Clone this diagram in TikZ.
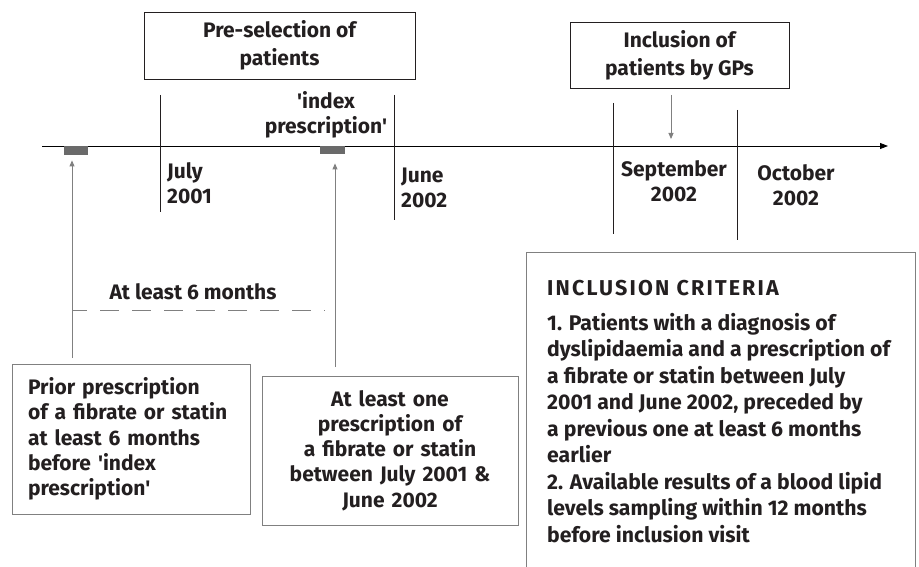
\documentclass[tikz,border=0pt]{standalone}
\usepackage{fontspec}
\setmainfont{Fira Sans}
\usetikzlibrary{arrows.meta}
\definecolor{txt}{HTML}{231F20}
\definecolor{grayline}{HTML}{808080}
\definecolor{barcol}{HTML}{6A6A6A}
\newcommand{\q}{\textquotesingle}
\tikzset{
  lbl/.style={inner sep=0pt, text=txt, font=\bfseries\fontsize{21}{25}\selectfont},
  topbox/.style={draw=txt, line width=0.9pt, inner sep=0pt, align=center, text=txt, font=\bfseries\fontsize{21}{28}\selectfont},
  botbox/.style={draw=grayline, line width=1pt, inner sep=0pt, text=txt, font=\bfseries\fontsize{21}{25.3}\selectfont},
  tick/.style={line width=0.9pt, draw=txt},
  garrow/.style={draw=grayline, line width=0.9pt, -{Triangle[length=6pt,width=5pt]}},
  barbox/.style={fill=barcol, inner sep=0pt, minimum width=24pt, minimum height=9pt}
}
\begin{document}
\begin{tikzpicture}[x=1pt,y=-1pt]
\useasboundingbox (0,0) rectangle (919,567);
% timeline
\coordinate (tl0) at (42,146);
\coordinate (tl1) at (888,146);
\draw[line width=0.9pt, -{Triangle[length=8pt,width=6pt]}] (tl0) -- (tl1);
% ticks
\coordinate (jul1) at (160,95);  \coordinate (jul2) at (160,212);
\coordinate (jun1) at (394,95);  \coordinate (jun2) at (394,220);
\coordinate (sep1) at (613,103); \coordinate (sep2) at (613,234);
\coordinate (oct1) at (737,110); \coordinate (oct2) at (737,240);
\draw[tick] (jul1) -- (jul2);
\draw[tick] (jun1) -- (jun2);
\draw[tick] (sep1) -- (sep2);
\draw[tick] (oct1) -- (oct2);
% top boxes
\node[topbox, minimum width=271pt, minimum height=67pt] (pre) at (279.5,45.5) {Pre-selection of\\patients};
\node[topbox, minimum width=219pt, minimum height=66pt] (incl) at (679.5,55) {Inclusion of\\patients by GPs};
\coordinate (inclarr) at (671,95);
\draw[garrow] (inclarr) -- (inclarr |- tl0) [shorten >=7pt];
% labels
\node[lbl, align=center] (idx) at (326,114.5) {\q index\\prescription\q};
\node[lbl, align=left, anchor=west] (jul) at (167,183.5) {July\\2001};
\node[lbl, align=left, anchor=west] (jun) at (401,187.5) {June\\2002};
\node[lbl, align=center] (sep) at (674,181) {September\\2002};
\node[lbl, align=center] (oct) at (796,185) {October\\2002};
% bars
\node[barbox, anchor=north west] (bar1) at (64,146) {};
\node[barbox, anchor=north west, minimum width=25pt, minimum height=8pt] (bar2) at (320,146) {};
% bottom boxes
\node[botbox, minimum width=238pt, minimum height=150pt, text width=206pt, align=left] (prior) at (131,439) {Prior prescription\\of a fibrate or statin\\at least 6 months\\before \q index\\prescription\q};
\node[botbox, minimum width=256pt, minimum height=149pt, text width=254pt, align=center] (one) at (390,450.5) {At least one\\prescription of\\a fibrate or statin\\between July 2001 \&\\June 2002};
% arrows up
\coordinate (a1) at (72,358);
\coordinate (a2) at (335,367);
\draw[garrow] (a1) -- (a1 |- bar1.south) [shorten >=5pt];
\draw[garrow] (a2) -- (a2 |- bar2.south) [shorten >=9pt];
% dashed interval
\coordinate (d1) at (73,310);
\coordinate (d2) at (325,310);
\draw[draw=grayline, line width=0.9pt, dash pattern=on 19pt off 13pt, dash phase=5pt] (d1) -- (d2);
\node[lbl] (six) at (193,292) {At least 6 months};
% criteria box
\coordinate (c1) at (526,567);
\coordinate (c2) at (526,252);
\coordinate (c3) at (915,252);
\coordinate (c4) at (915,567);
\draw[draw=grayline, line width=1pt] (c1) -- (c2) -- (c3) -- (c4);
\node[lbl, anchor=west, font=\bfseries\fontsize{21.5}{25}\selectfont\addfontfeatures{LetterSpace=10}] (crith) at (547,288) {INCLUSION CRITERIA};
\node[lbl, anchor=north west, align=left, font=\bfseries\fontsize{21.2}{26.5}\selectfont] (critt) at (547,313) {1. Patients with a diagnosis of\\dyslipidaemia and a prescription of\\a fibrate or statin between July\\2001 and June 2002, preceded by\\a previous one at least 6 months\\earlier\\2. Available results of a blood lipid\\levels sampling within 12 months\\before inclusion visit};
\end{tikzpicture}
\end{document}
